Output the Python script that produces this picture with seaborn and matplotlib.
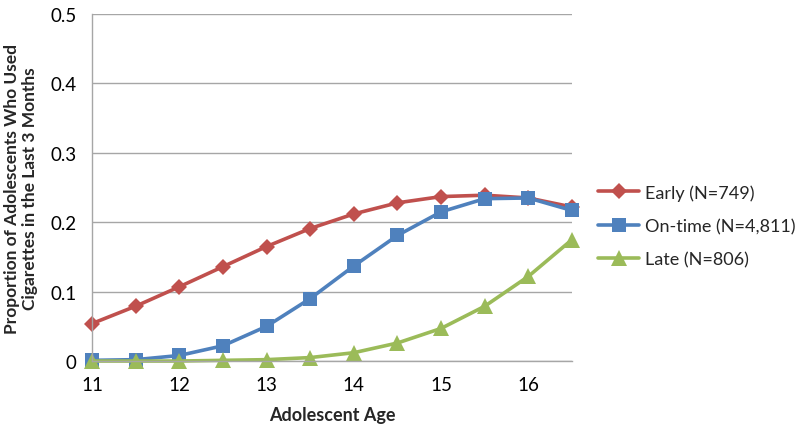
import matplotlib
matplotlib.use("Agg")
import matplotlib.pyplot as plt
import seaborn as sns
import pandas as pd

ages = [11, 11.5, 12, 12.5, 13, 13.5, 14, 14.5, 15, 15.5, 16, 16.5]
early = [0.054, 0.079, 0.107, 0.136, 0.165, 0.191, 0.212, 0.228, 0.237, 0.239, 0.235, 0.222]
ontime = [0.001, 0.002, 0.008, 0.022, 0.050, 0.090, 0.137, 0.181, 0.215, 0.234, 0.235, 0.217]
late = [0.000, 0.000, 0.000, 0.001, 0.002, 0.005, 0.012, 0.026, 0.047, 0.079, 0.122, 0.175]
series_names = ["Early (N=749)", "On-time (N=4,811)", "Late (N=806)"]
x_ticks = [11, 12, 13, 14, 15, 16]
y_ticks = [0, 0.1, 0.2, 0.3, 0.4, 0.5]
y_tick_labels = ["0", "0.1", "0.2", "0.3", "0.4", "0.5"]

sns.set_theme(style="white")
plt.rcParams["font.family"] = ["Lato", "DejaVu Sans"]

df = pd.DataFrame({
    "age": ages * 3,
    "value": early + ontime + late,
    "group": [series_names[0]] * len(ages) + [series_names[1]] * len(ages) + [series_names[2]] * len(ages),
})

fig = plt.figure(figsize=(8, 4.31), dpi=100)
ax = fig.add_axes([0.115, 0.160, 0.600, 0.805])

colors = {series_names[0]: "#C0504D", series_names[1]: "#4F81BD", series_names[2]: "#9BBB59"}
markers = {series_names[0]: "D", series_names[1]: "s", series_names[2]: "^"}
msizes = {series_names[0]: 8.5, series_names[1]: 10.5, series_names[2]: 11}

for name in series_names:
    sub = df[df["group"] == name]
    sns.lineplot(data=sub, x="age", y="value", ax=ax, color=colors[name], marker=markers[name],
                 markersize=msizes[name], markeredgewidth=0, linewidth=2.6, label=name,
                 clip_on=False)

ax.set_xlim(11, 16.5)
ax.set_ylim(0, 0.5)
ax.set_xticks(x_ticks)
ax.set_xticklabels([str(t) for t in x_ticks], fontsize=13.5)
ax.set_yticks(y_ticks)
ax.set_yticklabels(y_tick_labels, fontsize=13.5)
ax.yaxis.grid(True, color="#A6A6A6", linewidth=1)
ax.set_axisbelow(True)
for s in ["top", "right"]:
    ax.spines[s].set_visible(False)
for s in ["left", "bottom"]:
    ax.spines[s].set_color("#A6A6A6")
    ax.spines[s].set_linewidth(1)
ax.tick_params(axis="both", which="both", direction="out", length=5, color="#A6A6A6", width=1,
               labelcolor="black", pad=6)

ax.set_xlabel("Adolescent Age", fontsize=13, fontweight="bold", labelpad=9)
ax.set_ylabel("Proportion of Adolescents Who Used\nCigarettes in the Last 3 Months", fontsize=12.5,
              fontweight="bold", labelpad=9, linespacing=1.15)

leg = ax.legend(loc="center left", bbox_to_anchor=(1.02, 0.39), frameon=False, fontsize=13,
                handlelength=2.3, labelspacing=0.95, handletextpad=0.3)

fig.savefig("out.png", dpi=100)
